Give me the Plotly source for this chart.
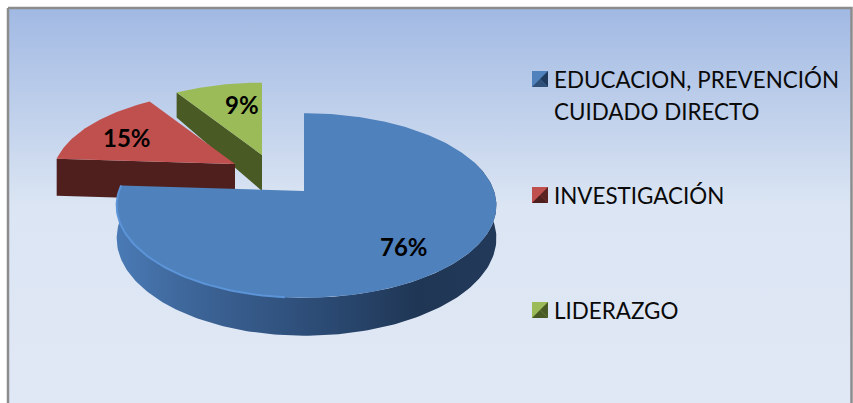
import numpy as np
import plotly.graph_objects as go

# ---- data ----
categories = ["EDUCACION, PREVENCIÓN<br>CUIDADO DIRECTO", "INVESTIGACIÓN", "LIDERAZGO"]
values = [76, 15, 9]
top_colors = ["#4F81BD", "#C0504D", "#9BBB59"]
side_colors = ["#2F5079", "#4F1F1E", "#4A5A24"]
swatch_light = ["#4F81BD", "#C0504D", "#9BBB59"]
swatch_dark = ["#1F3A5C", "#5A2220", "#4A5A24"]

# ---- drawing geometry (pixel-scale axes) ----
W, H = 853, 403
RX, RY, PERSP, DEPTH = 190.0, 90.0, 0.157, 32.0
left_rx = [185.0, 194.0, 194.0]
apex = [(304, 191), (235, 164), (262, 155)]   # exploded slice centres
slice_scale = [1.0, 0.93, 0.93]
cut_depth_rim = [0, 37, 25]
cut_depth_apex = [0, 37, 36]
label_radius = [0.72, 0.74, 0.72]
label_shift = [(-2, 4), (0, 3), (13, 2)]
swatch_x = 540
swatch_y = [79, 195, 310]
text_y = [79, 195, 310]
LINE_GAP = 32


def project(angle, radius, k, z=0.0):
    """angle in degrees clockwise from 12 o'clock, on a tilted disc"""
    a = np.radians(angle)
    u, v = radius * np.sin(a), radius * np.cos(a)
    s = slice_scale[k] / (1 + PERSP * v)
    rx = np.where(u < 0, left_rx[k], RX)
    return apex[k][0] + rx * u * s, apex[k][1] - RY * v * s + DEPTH * z * s


def poly(xs, ys, color=None, gradient=None, line=None):
    t = go.Scatter(x=list(xs), y=list(ys), mode="lines", fill="toself",
                   line=dict(width=line[1] if line else 0, color=line[0] if line else "rgba(0,0,0,0)"),
                   hoverinfo="skip", showlegend=False)
    if gradient:
        t.fillgradient = gradient
    else:
        t.fillcolor = color
    return t


fig = go.Figure()

# chart-area background and border
fig.add_trace(poly([8, 851.5, 851.5, 8, 8], [8, 8, 410, 410, 8],
                   gradient=dict(type="vertical", start=8, stop=403,
                                 colorscale=[[0, "#A1B9E3"], [0.5, "#DBE5F3"], [1, "#E1E8F5"]]),
                   line=("#8C8C8C", 2.5)))

# slice angular extents, clockwise from 12 o'clock
shares = np.array(values) / sum(values) * 360
starts = np.concatenate([[0], np.cumsum(shares)[:-1]])
ends = np.cumsum(shares)

# green, then red: radial cut face + top face
for k in (2, 1):
    a0, a1 = starts[k], ends[k]
    rx, ry = project(a0, 1, k)
    cx, cy = project(0, 0, k)
    fig.add_trace(poly([cx, rx, rx, cx, cx],
                       [cy, ry, ry + cut_depth_rim[k], cy + cut_depth_apex[k], cy], color=side_colors[k]))
    ang = np.linspace(a0, a1, 40)
    px, py = project(ang, 1, k)
    fig.add_trace(poly(np.r_[cx, px, cx], np.r_[cy, py, cy], color=top_colors[k]))

# blue: outer rim + top face
k = 0
ang = np.linspace(70, ends[0], 160)
tx, ty = project(ang, 1, k)
bx, by = project(ang, 1, k, 1)
fig.add_trace(poly(np.r_[tx, bx[::-1], tx[0]], np.r_[ty, by[::-1], ty[0]],
                   gradient=dict(type="horizontal", start=117, stop=497,
                                 colorscale=[[0, "#4A7AB5"], [0.2, "#3D6598"], [0.55, "#2B4A73"],
                                             [0.8, "#1F3654"], [1, "#22395A"]])))
ang = np.linspace(starts[0], ends[0], 240)
px, py = project(ang, 1, k)
cx, cy = project(0, 0, k)
fig.add_trace(poly(np.r_[cx, px, cx], np.r_[cy, py, cy], color=top_colors[0]))
# bevel highlight on the front-left of the rim
ang = np.linspace(185, ends[0], 60)
hx, hy = project(ang, 1, k)
fig.add_trace(go.Scatter(x=hx, y=hy, mode="lines", line=dict(color="#5C94D8", width=2),
                         hoverinfo="skip", showlegend=False))

# percentage labels
mids = (starts + ends) / 2
annotations = []
for k, v in enumerate(values):
    x, y = project(mids[k], label_radius[k], k)
    annotations.append(dict(x=float(x) + label_shift[k][0], y=float(y) + label_shift[k][1], xref="x", yref="y",
                            text=f"<b>{v}%</b>", showarrow=False,
                            font=dict(family="Lato, Noto Sans", size=24, color="#000000")))

# legend keys (bevelled squares) and labels
h = 8
for k, name in enumerate(categories):
    sx, sy = swatch_x, swatch_y[k]
    fig.add_trace(poly([sx - h, sx + h, sx + h, sx - h, sx - h],
                       [sy - h, sy - h, sy + h, sy + h, sy - h], color=swatch_light[k]))
    fig.add_trace(poly([sx + h, sx + h, sx, sx + h], [sy - h, sy + h, sy, sy - h], color=swatch_dark[k]))
    fig.add_trace(poly([sx - h, sx + h, sx, sx - h], [sy + h, sy + h, sy, sy + h], color=side_colors[k]))
    for j, part in enumerate(name.split("<br>")):
        annotations.append(dict(x=552, y=text_y[k] + j * LINE_GAP, xref="x", yref="y", xanchor="left",
                                align="left", text=part, showarrow=False,
                                font=dict(family="Lato, Noto Sans", size=22.4, color="#0A0A0A")))

fig.update_layout(
    width=W, height=H, autosize=False, margin=dict(l=0, r=0, t=0, b=0),
    paper_bgcolor="#FFFFFF", plot_bgcolor="rgba(0,0,0,0)", showlegend=False,
    xaxis=dict(range=[0, W], visible=False, fixedrange=True),
    yaxis=dict(range=[H, 0], visible=False, fixedrange=True),
    annotations=annotations,
)
fig.write_html("out.html", config=dict(displayModeBar=False),
               post_script="document.body.style.margin='0';document.body.style.overflow='hidden';")
